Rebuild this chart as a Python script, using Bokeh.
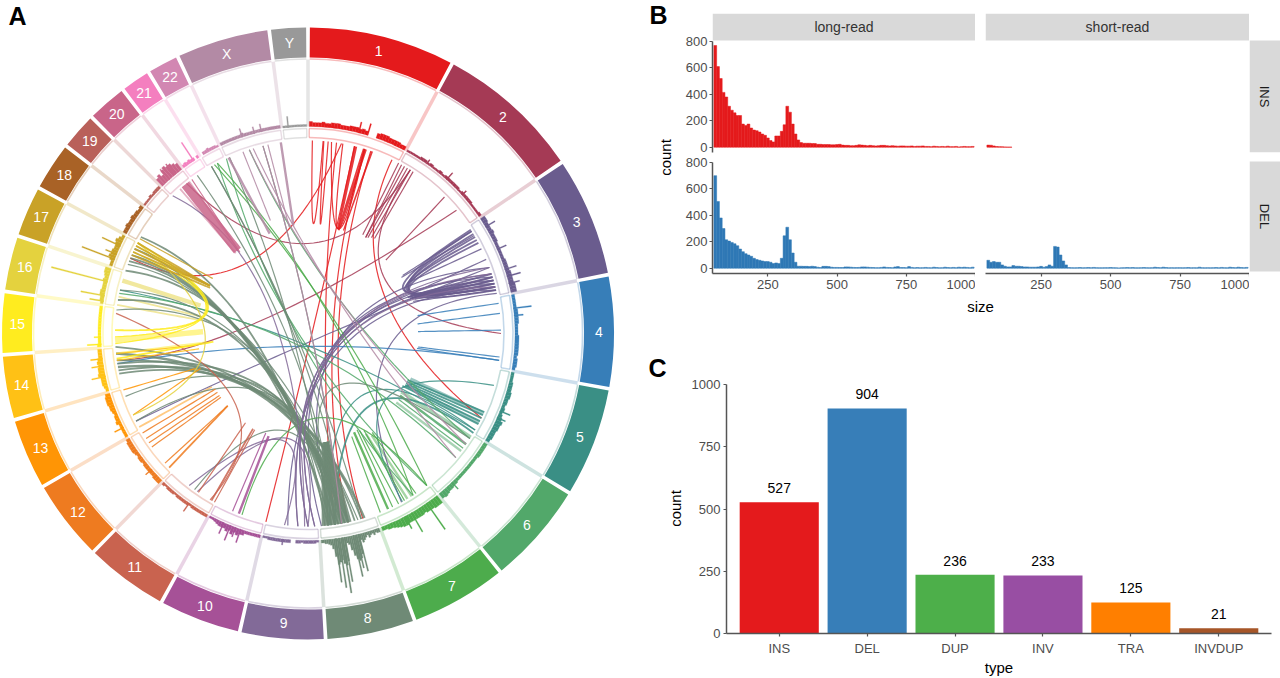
import math
import numpy as np
from bokeh.plotting import figure
from bokeh.layouts import row, column
from bokeh.models import Range1d, FactorRange, FixedTicker, ColumnDataSource
from bokeh.core.properties import value
from bokeh.embed import file_html
from bokeh.resources import INLINE

FONT = "Liberation Sans"

# ---------------- circos data ----------------
chrom_names = ["1","2","3","4","5","6","7","8","9","10","11","12","13","14","15","16","17","18","19","20","21","22","X","Y"]
chrom_colors = ["#e41a1c","#a53a55","#6a5c8e","#377eb8","#3a8f85","#52a86a","#4dac4c","#6f8a76","#826a98","#a65197",
                "#c9634f","#ee7b20","#ff9505","#ffc115","#ffec1f","#e4d23e","#c9a227","#a96226","#b9605a","#c96589",
                "#f47fbf","#d287b2","#b38aa5","#999999"]
chrom_end_deg = [28.1,56.0,78.9,100.4,121.4,141.1,159.6,176.7,192.9,208.6,224.5,240.0,253.6,266.0,277.9,288.6,298.4,307.8,315.0,322.8,328.6,334.8,352.7,360.0]

hist_base = {
 "1":[5,4,4,4,5,4,4,5,5,5,4,4,4,5,5,5,4,5,4,0,0,0,5,6,6,6,5,5,5,5,4,4],
 "2":[2,2,2,2,3,3,2,3,2,2,3,2,3,3,3,3,3,2,3,3,3,3,2,2,2,3],
 "3":[5,5,4,4,4,5,4,4,4,3,3,3,3,3,3,4,4,4,4,5,5,5,5,6,6,6],
 "4":[3,3,3,3,3,4,4,4,4,4,3,3,3,3,4,4,4,4,4,4,4,3,4,4,4,3],
 "5":[3,3,3,4,4,4,5,5,4,4,3,4,3,4,5,7,6,6,5,5,5,4],
 "6":[4,4,4,4,4,3,3,3,3,3,3,3,3,3,3,4,4,5,5,6,7,6],
 "7":[9,9,9,8,8,8,7,8,8,8,8,8,8,9,9,8,7,6,5,5,4,4],
 "8":[4,4,3,5,3,4,6,3,5,7,9,6,20,24,26,24,20,14,8,6,24,28,26,22,24,26,18,10,6,5,4,4,3,3],
 "9":[2,3,3,3,3,3,2,3,3,0,0,3,3,3,3,3,3,3,3,3,2,2],
 "10":[3,3,3,3,3,3,5,5,7,5,8,5,7,5,5,5,4,3,2,2],
 "11":[3,3,3,3,3,3,2,3,3,3,3,3,2,3,3,3,2,3],
 "12":[5,5,5,4,4,4,4,4,3,4,4,3,4,5,5,5,5,4],
 "13":[3,3,3,3,3,5,4,4,3,4,5,5,6,6,6,5],
 "14":[3,4,5,5,5,7,6,6,5,6,5,4,4,4],
 "15":[4,3,3,3,3,3,3,3,3,3,3,3,3,3],
 "16":[3,4,4,5,5,4,4,4,5,4,5,6,6],
 "17":[3,3,5,7,6,6,5,5,6,7,5,3],
 "18":[4,4,5,4,4,5,4,4,3,4],
 "19":[2,2,2,3,2,3,3,3],
 "20":[9,11,8,12,14,12,12,10,8],
 "21":[3,4,3,4,3,3,0,3],
 "22":[0,3,3,4,3,3,3,2],
 "X":[3,3,3,3,3,3,3,4,3,3,3,3,3,3,3,3,3,3,3,3],
 "Y":[2,2,2,2,2,2,2,2],
}
# narrow spikes on the track: (deg, height)
hist_spikes = {
 "1":[(14.2,11),(16.7,12)],
 "2":[(35,5),(42,9),(48,6)],
 "3":[(59,11),(66,10),(72,12),(74,14),(76,11)],
 "4":[(83,18),(85,9)],
 "5":[(112,11),(114,9)],
 "6":[(136,9)],
 "7":[(145,32),(150,22),(152,14)],
 "8":[(165.8,38),(166.6,34),(167.3,42),(169.8,45),(170.5,56),(171.4,50),(172.3,44)],
 "9":[(187,6)],
 "10":[(199,14),(200.5,10),(202,16),(204,12)],
 "11":[(215,10)],
 "12":[(229,8)],
 "13":[(243,10)],
 "14":[(258,14),(261,12),(263,12)],
 "15":[(267,14),(269,7)],
 "16":[(279,14),(280.5,24),(284.5,58)],
 "17":[(291,35),(292.5,12),(295,20)],
 "20":[(318,14),(320,14)],
 "21":[(326.5,22)],
 "X":[(341.5,9),(345,7),(347,8)],
 "Y":[(354.5,11)],
}

# links per chromosome: (from deg, to deg, apex deg, apex radius, support)
links = {
 "1":[(1.3,4.5,2.9,110,1),(4.7,6,6.5,110,1),(7,17,16.2,109,1),(10.4,17.2,16,109,1),(14,14.5,16,109,2),
      (16.8,17.5,16.5,108,2),(19.3,19.5,19,109,1),(19,163.5,103,31,1),(17,168,100,25,1),(14,192.6,160,7,1),
      (10,293,320,93,1),(25.8,116,60,86,1),(8.5,172,105,18,1)],
 "2":[(29,29,31,112,1),(30,30,31,112,1),(31,31,32,113,1),(32,32,33.5,115,1),(33,33,35,116,1),(28,28,29,113,1),
      (32,90,55.6,94,1),(45,45,46.7,107,1),(50.3,262,285,49,1),(321,32,0,90,1)],
 "3":[(58,76,66,110,2),(59,75,66,108,2),(60,77,67,109,2),(61,74,66,106,2),(62,76,67,110,2),(57.5,73,65,105,2),
      (58,58,58.5,111,1),(59.5,59.5,59,109,1),(64,64,63,113,1),(67.4,67.4,69,111,1),
      (72,72,70,108,2),(73,73,70,106,2),(74,74,71,110,2),(75,75,71,108,2),(76,76,72,112,2),(77,77,73,110,1),
      (70,172,110,30,1),(73,176,118,28,1),(75,183,120,32,1),(77,186,118,36,1),(78,151,105,80,1),(70,243,210,14,1),
      (72,178,130,30,1),(74,180,128,28,1)],
 "4":[(81,81,80.7,111,1),(84,84,85,110,1),(89,89,89,110,1),(98,98,97.8,110,1),(97,97,97,111,1),(98,261,190,13,1)],
 "5":[(114,114,115,110,2),(115,115,116,110,2),(116,116,117,110,2),(117,117,118,110,2),(118,118,119,108,2),
      (105.6,150.7,131,102,1),(121,172,139,95,2),(120,173.5,140,82,1),(283,120,220,12,1)],
 "6":[(125,125,124,111,3),(126.5,126.5,126,112,1),(142,332,245,8,1),(147,335,250,10,1),(130,282,215,15,1),(123,342.3,45,46,1)],
 "7":[(155.5,155.5,155,109,3),(154,154,153,108,1),(150,150,150,112,1),(146,146,147,118,1),(152,152,152,110,1),
      (158,158,157,112,1),(200,142,175,85,1),(331,142,45,30,1),(332,147,50,28,1)],
 "8":[(167.5,167.5,170,110,5),(168.5,168.5,170,110,5),(169.5,169.5,170.4,110,5),(170.5,170.5,170.4,110,5),
      (171.5,171.5,170.8,110,5),(172.5,172.5,171,110,5),(173.5,173.5,171,110,5),(174.5,174.5,171,110,5),(175.4,175.4,172,110,5),
      (163,260,212,76,3),(164,258,212,74,2),(166,262,212,76,2),(168,264,211,78,3),(170,266,211,76,2),(172,259,210,72,2),(174,261,210,70,2),
      (170,293,263,62,2),(165,291,262,58,1),(168,296,264,62,2),(172,289,260,58,2),(174,300,268,56,2),(169,294,262,60,2),(173,292,262,62,2),
      (171,280,250,60,2),(169,283,252,58,1),(175,277,245,55,1),(172,325,235,21,1),(346.5,170,145,8,1),(174,336,240,16,1),(164,330,230,12,1),
      (216,170,193,100,1),(123,171,155,60,1),(173,251,215,70,1),(170,243,210,72,1),(168,330,235,14,1)],
 "9":[(187,218,193,110,1),(180,215,190,107,1),(178,70,130,30,1),(180,72,128,28,1),(183,76,120,32,1),(315.5,181,301.5,44,1)],
 "10":[(201,201,201,110,3),(203,203,203,108,1)],
 "11":[(214.6,214.6,215,109,1),(210,210,210,110,2),(209,209,209,110,1),(276,210.5,228,100,1)],
 "12":[(227.8,227.8,228,108,1),(226,226,228,108,2),(234,234,233.8,108,1),(235.5,235.5,235,108,1),(237,237,237,108,1),(239,239,239,108,1)],
 "13":[(245,245,252,113,1),(253,253,252.7,118,1)],
 "14":[(262,262,262,110,1),(264,264,264,112,1)],
 "15":[(271,298,283,103,2),(269,297,283,105,1),(267,295,283,104,1),(262.5,262.5,265,95,2)],
 "16":[(245,298,266,103,1)],
 "17":[(295,295,296,109,2),(296,296,296,109,2),(297,297,296,109,2),(298,298,296,110,2),(294,294,295,108,2),(299.4,299.4,300,110,1)],
 "20":[(320.5,320.5,319.6,109,14),(323,323,320,106,1)],
 "X":[(335.7,335.7,339,107,3),(340.3,340.3,341.6,119,1),(342.3,125,45,46,1),(343.5,130,50,44,1),(346.5,170,145,8,1),
      (348,348,350,108,1),(351.9,351.9,352.3,109,3)],
}
links_pale = {
 "5":[(114.5,114.5,114,112,5),(117.5,117.5,118,112,4)],
 "6":[(122.5,122.5,122,110,5),(127.5,127.5,128,112,3)],
 "7":[(147.5,147.5,148,120,3),(149,149,150,116,3)],
 "13":[(241,241,241,110,2)],
 "15":[(268,268,271,105,8),(264,264,265,98,3)],
 "16":[(285.9,285.9,284.6,111,6),(281,281,279,108,2),(278.5,278.5,277,108,2)],
 "20":[(322,322,320,108,2),(318.5,318.5,318,108,2)],
}

# ---------------- panel B data ----------------
bin_centers = list(range(60, 1000, 10))
ins_long = [770,610,520,415,380,310,280,260,240,240,175,165,175,145,130,125,115,100,90,70,
            50,40,85,85,120,170,310,265,175,100,55,35,30,30,30,28,28,22,22,20,
            20,20,18,18,20,22,16,14,14,12,12,14,18,16,14,12,14,12,10,12,
            14,14,12,10,12,10,8,10,10,8,8,10,6,8,8,10,6,6,4,8,
            6,4,6,4,8,4,4,6,2,4,6,4,4,6]
del_long = [700,505,380,300,215,205,195,185,170,145,125,110,100,90,75,65,60,55,50,50,
            45,35,40,35,75,245,310,215,115,45,15,15,14,14,12,15,12,8,5,14,
            14,12,8,6,6,5,5,10,10,8,6,5,6,10,10,8,6,5,4,4,
            6,10,6,5,4,10,12,5,5,4,12,6,3,5,3,4,6,4,3,8,
            5,3,4,8,5,4,6,4,8,6,8,6,4,8]
ins_short = [16,15,10,5,4,3,2,1,1,0,0,0,0,0,0,0,0,0,0,0,
             0,0,0,0,0,0,0,0,0,0,0,0,0,0,0,0,0,0,0,0,
             0,0,0,0,0,0,0,0,0,0,0,0,0,0,0,0,0,0,0,0,
             0,0,0,0,0,0,0,0,0,0,0,0,0,0,0,0,0,0,0,0,
             0,0,0,0,0,0,0,0,0,0,0,0,0,0]
del_short = [60,45,50,45,45,25,15,10,10,20,15,15,12,10,10,8,8,8,10,14,
             8,12,25,15,165,160,100,55,25,5,4,3,4,5,3,4,5,4,6,4,
             3,3,4,4,5,4,3,2,3,4,5,4,5,3,3,4,5,4,3,4,
             8,5,4,8,5,3,4,3,4,4,3,4,5,3,4,3,8,4,3,4,
             3,4,5,3,6,4,3,8,5,4,8,5,4,6]
size_ticks = [250,500,750,1000]
count_ticks = [0,200,400,600,800]

# ---------------- panel C data ----------------
sv_types = ["INS","DEL","DUP","INV","TRA","INVDUP"]
sv_counts = [527,904,236,233,125,21]
sv_colors = ["#e41a1c","#377eb8","#4daf4a","#984ea3","#ff7f00","#a65628"]

AXIS = "#555555"
TICK = "#4d4d4d"

def blank(w, h, top=0, bottom=0):
    f = figure(width=w, height=h, x_range=Range1d(0, w), y_range=Range1d(h - bottom, top), output_backend="svg",
               toolbar_location=None, x_axis_location=None, y_axis_location=None,
               min_border_left=0, min_border_right=0, min_border_top=top, min_border_bottom=bottom)
    f.grid.visible = False
    f.outline_line_color = None
    return f

def put(f, x, y, s, size, color="#000000", style="normal", angle=0.0, align="center"):
    f.text(x=[x], y=[y], text=[s], text_font=value(FONT), text_font_size=f"{size}px", text_color=color,
           text_font_style=style, angle=[angle], text_align=align, text_baseline="middle")

# ---------------- panel A ----------------
a = figure(width=640, height=678, x_range=Range1d(-307.5, 332.5), y_range=Range1d(-345, 333),
           output_backend="svg", toolbar_location=None, x_axis_location=None, y_axis_location=None, min_border=0)
a.grid.visible = False
a.outline_line_color = None

starts = [0.0] + chrom_end_deg[:-1]
GAP = 0.35
R_OUT, R_IN, R_SPOKE, R_HIST, R_B1, R_B0, R_LINK = 306, 276, 274, 207, 205, 196, 193
rad = lambda d: math.radians(90 - d)
pol = lambda d, r: (r * math.sin(math.radians(d)), r * math.cos(math.radians(d)))

sx, sy, sc = [], [], []
for s, e, c in zip(starts, chrom_end_deg, chrom_colors):
    for r in (R_IN - 1.5, R_B1, R_B0):
        a.arc(x=[0], y=[0], radius=[r], start_angle=[rad(s + GAP)], end_angle=[rad(e - GAP)], direction="clock",
              line_color=c, line_alpha=0.3, line_width=1.6)
    p0, p1 = pol(e, R_HIST), pol(e, R_SPOKE)
    sx.append([p0[0], p1[0]]); sy.append([p0[1], p1[1]]); sc.append(c)
    for th in (s + GAP, e - GAP):
        q0, q1 = pol(th, R_B0), pol(th, R_B1)
        a.line([q0[0], q1[0]], [q0[1], q1[1]], line_color=c, line_alpha=0.3, line_width=1.4)
a.multi_line(sx, sy, line_color=sc, line_alpha=0.25, line_width=3.5)

a.annular_wedge(x=0, y=0, inner_radius=R_IN, outer_radius=R_OUT,
                start_angle=[rad(s + GAP) for s in starts], end_angle=[rad(e - GAP) for e in chrom_end_deg],
                direction="clock", fill_color=chrom_colors, line_color=None)
for s, e, n in zip(starts, chrom_end_deg, chrom_names):
    q = pol((s + e) / 2, 291)
    put(a, q[0], q[1], n, 14, "#ffffff")

hs, he, hr, hc = [], [], [], []
for name, s, e, c in zip(chrom_names, starts, chrom_end_deg, chrom_colors):
    vals = hist_base[name]
    edges = np.linspace(s + GAP, e - GAP, len(vals) + 1)
    for i, v in enumerate(vals):
        if v > 0:
            hs.append(rad(edges[i])); he.append(rad(edges[i + 1])); hr.append(R_HIST + v); hc.append(c)
    for d, v in hist_spikes.get(name, []):
        hs.append(rad(d - 0.15)); he.append(rad(d + 0.15)); hr.append(R_HIST + v); hc.append(c)
a.annular_wedge(x=0, y=0, inner_radius=R_HIST, outer_radius=hr, start_angle=hs, end_angle=he,
                direction="clock", fill_color=hc, line_color=hc, line_width=0.3)

def bez(a0, a1, ta, tr):
    p0, p1, tip = np.array(pol(a0, R_LINK)), np.array(pol(a1, R_LINK)), np.array(pol(ta, tr))
    ctrl = 2 * tip - 0.5 * (p0 + p1)
    t = np.linspace(0, 1, 41)[:, None]
    pts = (1 - t) ** 2 * p0 + 2 * t * (1 - t) * ctrl + t ** 2 * p1
    return pts[:, 0].tolist(), pts[:, 1].tolist()

color_of = dict(zip(chrom_names, chrom_colors))
for group, alpha in ((links_pale, 0.5), (links, 0.85)):
    xs, ys, cs, ws = [], [], [], []
    for name, items in group.items():
        for l in items:
            bx, by = bez(*l[:4])
            xs.append(bx); ys.append(by); cs.append(color_of[name]); ws.append(0.6 + 0.6 * l[4])
    a.multi_line(xs, ys, line_color=cs, line_width=ws, line_alpha=alpha)

put(a, -299.5, 318, "A", 25, style="bold", align="left")

# ---------------- panel B ----------------
def style_axis(ax, standoff):
    ax.axis_line_color = AXIS; ax.axis_line_width = 1.5
    ax.major_tick_line_color = AXIS; ax.major_tick_line_width = 1.2
    ax.major_tick_out = 3; ax.major_tick_in = 0
    ax.minor_tick_line_color = None
    ax.major_label_text_font = FONT; ax.major_label_text_font_size = "13px"
    ax.major_label_text_color = TICK; ax.major_label_standoff = standoff

def facet(w, h, left, top, bottom, y_end, vals, color, show_y, show_x, strip=None):
    f = figure(width=w, height=h, x_range=Range1d(50, 1000), y_range=Range1d(-40, y_end),
               output_backend="svg", toolbar_location=None, min_border_left=left, min_border_right=0,
               min_border_top=top, min_border_bottom=bottom,
               x_axis_location="below" if show_x else None, y_axis_location="left" if show_y else None)
    f.grid.visible = False
    f.outline_line_color = None
    kept = [(b, v) for b, v in zip(bin_centers, vals) if v > 0]
    f.quad(left=[b - 5 for b, _ in kept], right=[b + 5 for b, _ in kept], bottom=0, top=[v for _, v in kept],
           fill_color=color, line_color=color, line_width=0.5)
    if show_y:
        style_axis(f.yaxis[0], 2)
        f.yaxis[0].ticker = FixedTicker(ticks=count_ticks)
        f.yaxis[0].bounds = (-40, 800)
    if show_x:
        style_axis(f.xaxis[0], 3)
        f.xaxis[0].ticker = FixedTicker(ticks=size_ticks)
    if strip:
        f.quad(left=[50], right=[1000], bottom=[808], top=[y_end], fill_color="#d9d9d9", line_color=None)
        put(f, 525, (808 + y_end) / 2, strip, 14, "#333333")
    return f

Y_TOP = 1012
Y_MID = 860
f11 = facet(295, 154, 32, 13, 2, Y_TOP, ins_long, "#e41a1c", True, False, "long-read")
f12 = facet(274, 154, 10, 13, 2, Y_TOP, ins_short, "#e41a1c", False, False, "short-read")
f21 = facet(295, 139, 32, 0, 20, Y_MID, del_long, "#2f78b5", True, True)
f22 = facet(274, 139, 10, 0, 20, Y_MID, del_short, "#2f78b5", False, True)

def side_strip(h, top, bottom, y0, y1, s):
    f = blank(31, h, top, bottom)
    f.quad(left=[0], right=[31], top=[y0], bottom=[y1], fill_color="#d9d9d9", line_color=None)
    put(f, 15, (y0 + y1) / 2, s, 13, "#1a1a1a", angle=-math.pi / 2)
    return f

s1 = side_strip(154, 13, 2, 40, 152, "INS")
s2 = side_strip(139, 0, 20, 7, 117, "DEL")

b_left = blank(40, 325)
put(b_left, 9, 14, "B", 25, style="bold", align="left")
put(b_left, 25, 157, "count", 15, angle=math.pi / 2)
b_size = blank(600, 32)
put(b_size, 300, 13, "size", 15)
b_block = row(b_left, column(row(f11, f12, s1, spacing=0), row(f21, f22, s2, spacing=0), b_size, spacing=0), spacing=0)

# ---------------- panel C ----------------
c_left = blank(46, 353)
put(c_left, 8, 42, "C", 25, style="bold", align="left")
put(c_left, 35, 183, "count", 15, angle=math.pi / 2)

c = figure(width=594, height=353, x_range=FactorRange(factors=sv_types, range_padding=0.2 / 6, factor_padding=0),
           y_range=Range1d(0, 1000), output_backend="svg", toolbar_location=None,
           min_border_left=40, min_border_right=9, min_border_top=59, min_border_bottom=45)
c.grid.visible = False
c.outline_line_color = None
src = ColumnDataSource(dict(t=sv_types, n=sv_counts, col=sv_colors, lab=[str(v) for v in sv_counts]))
c.vbar(x="t", top="n", width=0.9, source=src, fill_color="col", line_color=None)
c.text(x="t", y="n", text="lab", source=src, y_offset=-14, text_font=value(FONT), text_font_size="14px",
       text_color="#000000", text_align="center", text_baseline="middle")
style_axis(c.yaxis[0], 3)
style_axis(c.xaxis[0], 4)
c.yaxis[0].ticker = FixedTicker(ticks=[0, 250, 500, 750, 1000])
c.xaxis[0].axis_label = "type"
c.xaxis[0].axis_label_text_font = FONT; c.xaxis[0].axis_label_text_font_size = "15px"
c.xaxis[0].axis_label_text_font_style = "normal"; c.xaxis[0].axis_label_text_color = "#000000"
c.xaxis[0].axis_label_standoff = 0

right = column(b_block, row(column(c_left), c, spacing=0), spacing=0)
root = row(a, right, spacing=0)

open("out.html", "w").write(file_html(root, INLINE))
